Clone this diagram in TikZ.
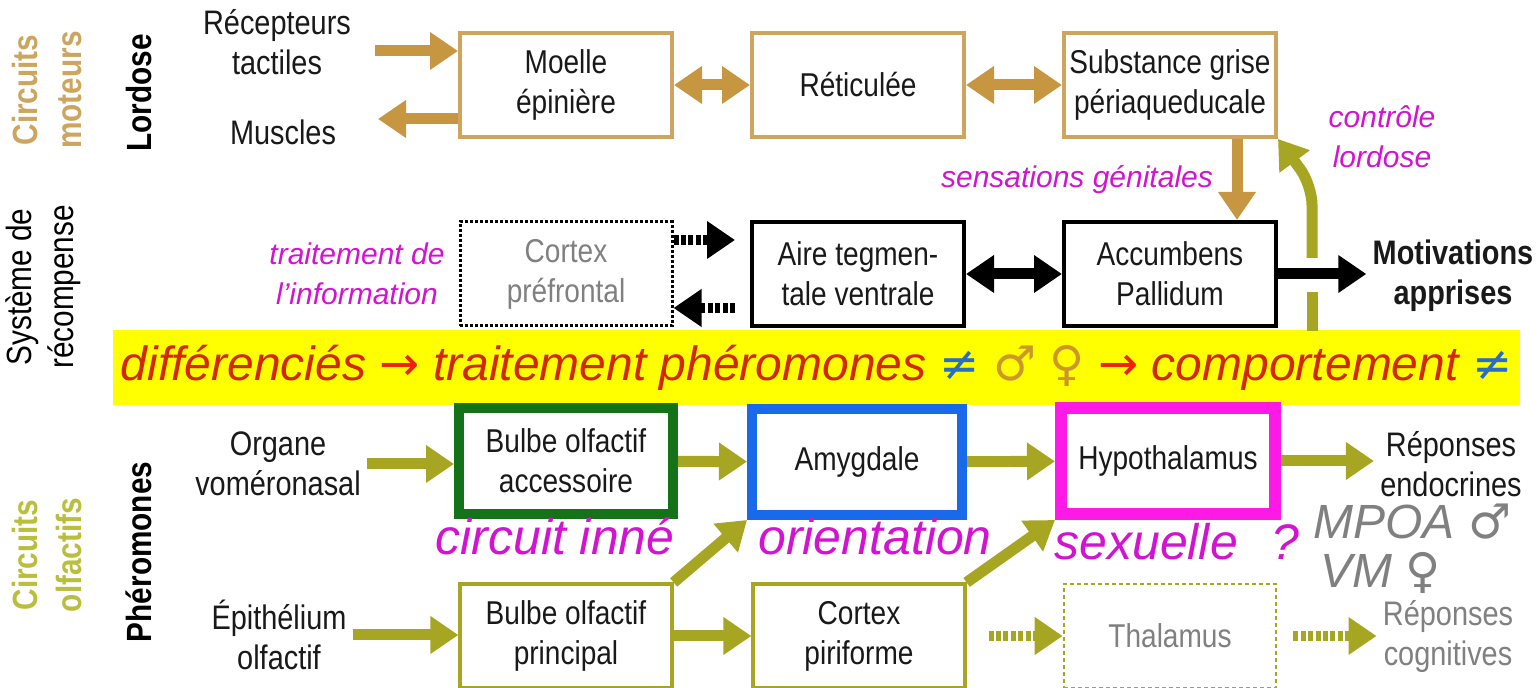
\documentclass[tikz,border=0pt]{standalone}
\usepackage{fontspec}
\usepackage{tikz}
\usepackage{xcolor}
\usetikzlibrary{arrows.meta}
\setmainfont{Liberation Sans}
\newfontfamily\etroit{Liberation Sans}[FakeStretch=0.85]
\newfontfamily\symb{DejaVu Sans}

\definecolor{ocre}{RGB}{198,150,65}
\definecolor{ocreclair}{RGB}{205,165,95}
\definecolor{kaki}{RGB}{166,166,34}
\definecolor{kakiclair}{RGB}{185,190,60}
\definecolor{vertfonce}{RGB}{20,115,25}
\definecolor{bleuamyg}{RGB}{25,105,235}
\definecolor{rosehypo}{RGB}{255,25,230}
\definecolor{magtexte}{RGB}{210,20,210}
\definecolor{grisclair}{RGB}{128,128,128}
\definecolor{jaunebande}{RGB}{255,255,0}
\definecolor{rougebande}{RGB}{210,40,5}
\definecolor{rougevif}{RGB}{235,35,10}
\definecolor{bleudiff}{RGB}{40,110,200}
\definecolor{ordore}{RGB}{205,150,40}
\definecolor{encre}{RGB}{25,25,25}

\begin{document}
\begin{tikzpicture}[x=0.5pt, y=-0.5pt,
  boite/.style={rectangle, align=center, inner sep=0pt, minimum width=106pt, minimum height=52pt, text=encre, font=\etroit\fontsize{16.5}{20}\selectfont},
  boiteocre/.style={boite, draw=ocreclair, line width=2pt},
  boitenoire/.style={boite, draw=black, line width=2pt},
  boitekaki/.style={boite, draw=kaki, line width=1.6pt},
  texte/.style={align=center, inner sep=3pt, text=encre, font=\etroit\fontsize{17}{20}\selectfont},
  etiquette/.style={align=center, inner sep=0pt, rotate=90, font=\etroit\bfseries\fontsize{17.5}{22}\selectfont},
  remarque/.style={align=center, inner sep=1pt, text=magtexte, font=\itshape\fontsize{15}{20}\selectfont},
  grosmot/.style={anchor=base, inner sep=0pt, text=magtexte, font=\itshape\fontsize{25}{30}\selectfont},
  pointe/.style={-{Triangle[length=14pt,width=18pt]}},
  deuxpointes/.style={{Triangle[length=14pt,width=18pt]}-{Triangle[length=14pt,width=18pt]}},
  fleche/.style={pointe, line width=5.5pt},
  doublefleche/.style={deuxpointes, line width=5.5pt},
  pointille/.style={pointe, line width=5pt, dash pattern=on 2.5pt off 1.2pt}
]
\useasboundingbox (0,0) rectangle (1539,688);
\fill[white] (0,0) rectangle (1539,688);

% circuits moteurs
\node[texte] (recept) at (277,42) {Récepteurs\\tactiles};
\node[texte] (muscles) at (283,132) {Muscles};
\node[boiteocre] (moelle) at (566,85) {Moelle\\épinière};
\node[boiteocre] (retic) at (858,85) {Réticulée};
\node[boiteocre] (sgpa) at (1170,85) {Substance grise\\périaqueducale};

% systeme de recompense
\node[remarque] (traitinfo) at (357,274) {traitement de\\l'information};
\node[boite, draw=black, line width=1.5pt, dash pattern=on 1.5pt off 1pt, text=grisclair] (cortexpf) at (566,274) {Cortex\\préfrontal};
\node[boitenoire] (atv) at (858,274) {Aire tegmen-\\tale ventrale};
\node[boitenoire] (accumb) at (1170,274) {Accumbens\\Pallidum};
\node[texte, font=\etroit\bfseries\fontsize{17}{20}\selectfont] (motiv) at (1453,276) {Motivations\\apprises};
\node[remarque] (sensgen) at (1077,180) {sensations génitales};
\node[remarque] (ctllord) at (1382,137) {contrôle\\lordose};

\node[fill=jaunebande, minimum width=703.5pt, minimum height=37.5pt, inner sep=0pt, text=rougebande, font=\itshape\fontsize{24}{28}\selectfont] (bande) at (816.5,367.5) {différenciés {\symb\upshape\color{rougevif}→} traitement phéromones {\symb\upshape\color{bleudiff}≠} {\symb\upshape\color{ordore}♂} {\symb\upshape\color{ordore}♀} {\symb\upshape\color{rougevif}→} comportement {\symb\upshape\color{bleudiff}≠}};

% circuits olfactifs
\node[texte] (organe) at (278,464) {Organe\\voméronasal};
\node[boite, draw=vertfonce, line width=5pt, minimum width=107pt, minimum height=53pt] (boa) at (566,461) {Bulbe olfactif\\accessoire};
\node[boite, draw=bleuamyg, line width=5pt, minimum width=105pt, minimum height=53pt] (amyg) at (857,462) {Amygdale};
\node[boite, draw=rosehypo, line width=6pt, minimum width=107pt, minimum height=53pt] (hypo) at (1168,461) {Hypothalamus};
\node[texte] (repend) at (1451,464) {Réponses\\endocrines};

\node[grosmot] (inne) at (555,555) {circuit inné};
\node[grosmot] (orient) at (875,555) {orientation};
\node[grosmot] (sexu) at (1177,560) {sexuelle\hspace{10pt} ?};
\node[grosmot, anchor=base west, text=grisclair, text depth=0pt, font=\itshape\fontsize{24}{28}\selectfont] (mpoa) at (1313,539) {MPOA {\symb\upshape ♂}};
\node[grosmot, anchor=base west, text=grisclair, text height=17pt, font=\itshape\fontsize{24}{28}\selectfont] (vm) at (1320,588) {VM {\symb\upshape ♀}};

\node[texte] (epith) at (279,635) {Épithélium\\olfactif};
\node[boitekaki] (bop) at (566,636) {Bulbe olfactif\\principal};
\node[boitekaki] (cpir) at (859,636) {Cortex\\piriforme};
\node[boite, draw=kaki, line width=1.3pt, dash pattern=on 2pt off 1.5pt, text=grisclair] (thal) at (1170,636) {Thalamus};
\node[texte, text=grisclair] (repcog) at (1448,637) {Réponses\\cognitives};

% etiquettes de gauche
\node[etiquette, text=ocreclair] (cmot) at (47,90) {Circuits\\moteurs};
\node[etiquette] (lordose) at (139,93) {Lordose};
\node[etiquette, font=\etroit\fontsize{17.5}{21}\selectfont] (recomp) at (43,287) {Système de\\récompense};
\node[etiquette] (pherom) at (139,552) {Phéromones};
\node[etiquette, text=kakiclair] (colf) at (47,555) {Circuits\\olfactifs};

% fleches
\coordinate (rec-a) at (375,51);
\coordinate (mus-a) at (378,119);
\draw[fleche, ocre] (rec-a) -- (rec-a -| moelle.west);
\draw[fleche, ocre] (mus-a -| moelle.west) -- (mus-a);
\draw[doublefleche, ocre] (moelle) -- (retic);
\draw[doublefleche, ocre] (retic) -- (sgpa);
\draw[fleche, ocre] ([xshift=33.5pt]sgpa.south) -- ([xshift=33.5pt]accumb.north);

\draw[pointille, black, shorten >=7.5pt] ([yshift=17pt]cortexpf.east) -- ([yshift=17pt]atv.west);
\draw[pointille, black, shorten <=7.5pt] ([yshift=-17pt]atv.west) -- ([yshift=-17pt]cortexpf.east);
\draw[doublefleche, black] (atv) -- (accumb);
\draw[fleche, black] (accumb.east) -- (accumb.east -| motiv.west);

\coordinate (ctl-a) at (1312,331);
\coordinate (ctl-b) at (1312,292);
\coordinate (ctl-c) at (1312,258);
\coordinate (ctl-d) at (1312,185);
\draw[kaki, line width=5.5pt] (ctl-a) -- (ctl-b);
\draw[fleche, kaki, rounded corners=10pt] (ctl-c) -- (ctl-d) -- (sgpa.south east);

\draw[fleche, kaki] (organe.east) -- (organe.east -| boa.west);
\draw[fleche, kaki] (boa) -- (amyg);
\draw[fleche, kaki] (amyg) -- (hypo);
\draw[fleche, kaki] (hypo.east) -- (hypo.east -| repend.west);

\draw[fleche, kaki] (epith.east) -- (epith.east -| bop.west);
\draw[fleche, kaki] (bop) -- (cpir);
\draw[pointille, kaki, shorten <=11pt] (cpir) -- (thal);
\draw[pointille, kaki, shorten <=8pt] (thal.east) -- (thal.east -| repcog.west);
\draw[fleche, kaki] (bop.north east) -- (amyg.south west);
\draw[fleche, kaki] (cpir.north east) -- (hypo.south west);
\end{tikzpicture}
\end{document}
